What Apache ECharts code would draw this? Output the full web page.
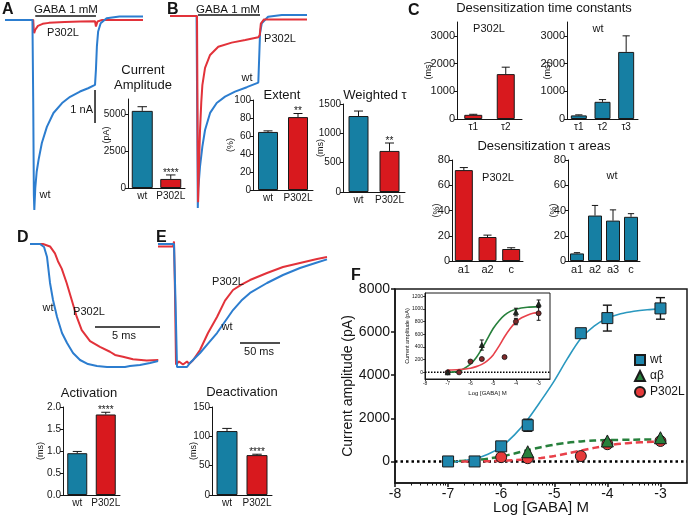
<!DOCTYPE html>
<html><head><meta charset="utf-8">
<script src="https://cdn.jsdelivr.net/npm/echarts@6/dist/echarts.min.js"></script>
<style>html,body{margin:0;padding:0;background:#fff}#c{width:688px;height:517px}</style>
</head><body><div id="c"></div>
<script>
// ---------------- DATA ----------------
// Panel A traces (t in s, current in nA)
const traceAwt = [[-1.8,0],[-0.05,0],[0.0,-2.5],[0.04,-5.3],[0.07,-5.76],[0.13,-5.1],[0.22,-4.6],[0.34,-4.24],[0.55,-3.73],[0.87,-3.24],[1.29,-2.82],[1.84,-2.52],[2.35,-2.33],[2.98,-2.17],[3.5,-2.07],[3.94,-1.97],[4.0,-1.5],[4.06,-0.8],[4.14,-0.35],[4.3,-0.1],[4.68,0.05],[5.5,0.1],[7,0.1]];
const traceAmut = [[-1.8,0],[0,0],[0.03,-0.25],[0.06,-0.4],[0.13,-0.3],[0.3,-0.18],[0.6,-0.12],[1.0,-0.09],[2.0,-0.06],[3.0,-0.05],[3.94,-0.04],[4.0,-0.2],[4.1,-0.05],[4.4,0.0],[7,0.0]];
const gabaA = [[0.13,0.12],[4.0,0.12]];
const scaleA = [[3.94,-2.12],[3.94,-3.12]];
// Panel B traces (normalized)
const traceBwt = [[-1.71,0],[-0.03,0],[0.02,-0.6],[0.05,-1.0],[0.08,-0.9],[0.19,-0.785],[0.34,-0.681],[0.51,-0.594],[0.83,-0.505],[1.25,-0.453],[1.78,-0.42],[2.41,-0.394],[3.16,-0.371],[3.89,-0.347],[3.96,-0.35],[4.0,-0.09],[4.11,-0.038],[4.51,-0.004],[5.38,0.005],[6.98,0.005]];
const traceBmut = [[-1.71,0],[0.0,0],[0.04,-0.6],[0.07,-0.97],[0.12,-0.8],[0.19,-0.6],[0.27,-0.45],[0.34,-0.36],[0.51,-0.27],[0.83,-0.203],[1.35,-0.16],[2.2,-0.139],[3.06,-0.125],[3.89,-0.111],[3.98,-0.1],[4.05,-0.04],[4.25,-0.018],[6.98,-0.018]];
const gabaB = [[0.06,0.005],[4.0,0.005]];
// Panel D traces (t in ms, normalized)
const traceDwt = [[0,0],[0.77,0],[1.08,-0.024],[1.31,-0.106],[1.54,-0.317],[1.77,-0.455],[2.08,-0.593],[2.46,-0.724],[2.85,-0.805],[3.31,-0.886],[3.85,-0.943],[4.46,-0.976],[5.15,-0.992],[5.92,-1.0],[6.69,-1.0],[7.31,-1.0],[7.69,-0.992],[8.46,-0.984],[9.23,-0.967],[9.85,-0.951]];
const traceDmut = [[0,0],[1.0,0],[1.54,-0.02],[1.92,-0.076],[2.15,-0.14],[2.44,-0.2],[2.82,-0.317],[3.21,-0.455],[3.59,-0.591],[3.98,-0.7],[4.62,-0.79],[5.38,-0.837],[6.15,-0.876],[6.54,-0.902],[6.67,-0.886],[7.15,-0.916],[7.92,-0.937],[8.97,-0.948],[9.87,-0.943]];
const scaleD = [[5,-0.675],[10,-0.675]];
// Panel E traces (t in ms, normalized)
const traceEwt = [[-21.25,0],[-1.25,0],[0.6,-0.455],[2.5,-1.0],[15,-1.0],[18.75,-0.967],[31.25,-0.886],[41.25,-0.81],[52.5,-0.724],[62.5,-0.63],[72.5,-0.537],[83,-0.46],[93.75,-0.398],[115,-0.317],[135,-0.252],[156.25,-0.195],[177.5,-0.15],[190,-0.125]];
const traceEmut = [[-21.25,-0.02],[-2.5,-0.02],[-1.25,0.02],[0,-0.4],[1.25,-0.98],[5,-0.955],[10,-0.98],[15,-0.955],[17.5,-0.975],[22.5,-0.945],[31.25,-0.862],[41.25,-0.724],[52.5,-0.593],[62.5,-0.46],[72.5,-0.374],[83,-0.33],[93.75,-0.293],[115,-0.236],[135,-0.187],[156.25,-0.154],[177.5,-0.122],[190,-0.106]];
const scaleE = [[81.25,-0.805],[131.25,-0.805]];

// Bar charts
const grpCats = ['wt','P302L'];
const ampVals = [5200,610], ampErrs = [280,270], ampStars = ['','****'];
const extVals = [64.5,81], extErrs = [1.2,4], extStars = ['','**'];
const wtauVals = [1295,700], wtauErrs = [85,135], wtauStars = ['','**'];
const tcP302Cats = ['τ1','τ2'], tcP302Vals = [150,1620], tcP302Errs = [20,250];
const tcWtCats = ['τ1','τ2','τ3'], tcWtVals = [130,620,2420], tcWtErrs = [20,80,580];
const arP302Cats = ['a1','a2','c'], arP302Vals = [72,19,9.5], arP302Errs = [2,1.5,1];
const arWtCats = ['a1','a2','a3','c'], arWtVals = [6,36,32,35], arWtErrs = [0.6,8,8.5,2.5];
const actVals = [0.95,1.83], actErrs = [0.04,0.05], actStars = ['','****'];
const deactVals = [109,68], deactErrs = [4.5,1.5], deactStars = ['','****'];

// Panel F dose-response (log M, pA)
const fXTicks = [-8,-7,-6,-5,-4,-3];
const fYTicks = [0,2000,4000,6000,8000];
const wtPts = [[-7,0],[-6.5,0],[-6,700],[-5.5,1680],[-4.5,5950],[-4,6650],[-3,7100]];
const wtErr = [50,50,120,280,150,600,500];
const abPts = [[-5.5,450],[-4,950],[-3,1100]];
const abErr = [0,0,0];
const mutPts = [[-6,200],[-5.5,150],[-4.5,250],[-4,800],[-3,950]];
const mutErr = [0,0,0,0,0];
const wtFit = [[-7,-50],[-6.75,20],[-6.5,120],[-6.25,330],[-6,680],[-5.75,1230],[-5.5,1950],[-5.25,2820],[-5,3740],[-4.75,4780],[-4.5,5700],[-4.25,6280],[-4,6640],[-3.75,6850],[-3.5,6970],[-3.25,7040],[-3,7080]];
const abFit = [[-7,0],[-6.75,20],[-6.5,60],[-6.25,130],[-6,230],[-5.75,370],[-5.5,520],[-5.25,660],[-5,780],[-4.75,870],[-4.5,930],[-4.25,970],[-4,990],[-3.5,1010],[-3,1020]];
const mutFit = [[-6.75,0],[-6.5,5],[-6.25,12],[-6,30],[-5.75,60],[-5.5,100],[-5.25,160],[-5,250],[-4.75,370],[-4.5,500],[-4.25,630],[-4,740],[-3.75,820],[-3.5,870],[-3.25,900],[-3,920]];
const zeroLine = [[-8,0],[-2.5,0]];
// Inset
const inYTicks = [0,200,400,600,800,1000,1200];
const abInPts = [[-7,0],[-5.5,430],[-4,950],[-3,1080]];
const abInErr = [0,80,60,60];
const mutInPts = [[-7,0],[-6.5,0],[-6,170],[-5.5,210],[-4.5,240],[-4,800],[-3,930]];
const mutInErr = [0,0,0,0,0,50,110];
const abInFit = [[-7,0],[-6.5,20],[-6,130],[-5.75,230],[-5.5,370],[-5.25,530],[-5,690],[-4.75,810],[-4.5,900],[-4.25,960],[-4,995],[-3.5,1025],[-3,1035]];
const mutInFit = [[-7,35],[-6.5,45],[-6,65],[-5.75,90],[-5.5,125],[-5.25,185],[-5,275],[-4.75,410],[-4.5,560],[-4.25,690],[-4,795],[-3.75,860],[-3.5,900],[-3.25,930],[-3,945]];

// ---------------- BUILD ----------------
const FONT = '"Liberation Sans", Arial, Helvetica, sans-serif';
const INK = '#151515', TEAL = '#167fa3', RED = '#d8191e', TBLUE = '#2c7dcf', TRED = '#e2323a';
const F_TEAL = '#2a98bf', F_SQ = '#1e86ad', F_GREEN = '#27803c', F_RED = '#e8414a';
const plain = v => String(v);

const grids = [], xAxes = [], yAxes = [], series = [], graphics = [];
function addGrid(box, xa, ya, extra) {
  const gi = grids.length;
  grids.push(Object.assign({left: box[0], top: box[1], width: box[2], height: box[3], containLabel: false, outerBoundsMode: 'none'}, extra || {}));
  xa.gridIndex = gi; ya.gridIndex = gi;
  xAxes.push(xa); yAxes.push(ya);
  return {x: xAxes.length - 1, y: yAxes.length - 1, g: gi};
}
function line(a, data, color, width, extra) {
  series.push(Object.assign({type: 'line', xAxisIndex: a.x, yAxisIndex: a.y, data: data, symbol: 'none', showSymbol: false,
    lineStyle: {color: color, width: width}, itemStyle: {color: color}, silent: true, z: 2}, extra || {}));
}
function errBars(a, pts, errs, capW, lw, color, twoSided, z) {
  series.push({type: 'custom', xAxisIndex: a.x, yAxisIndex: a.y, silent: true, z: z || 3, clip: false,
    data: pts.map((p, i) => [p[0], p[1], errs[i]]),
    renderItem: function (params, api) {
      const x = api.value(0), v = api.value(1), e = api.value(2);
      if (!e) return {type: 'group', children: []};
      const t = api.coord([x, v + e]);
      const b = api.coord([x, twoSided ? v - e : v]);
      const st = {stroke: color, lineWidth: lw};
      const ch = [
        {type: 'line', shape: {x1: t[0], y1: t[1], x2: b[0], y2: b[1]}, style: st},
        {type: 'line', shape: {x1: t[0] - capW / 2, y1: t[1], x2: t[0] + capW / 2, y2: t[1]}, style: st}
      ];
      if (twoSided) ch.push({type: 'line', shape: {x1: b[0] - capW / 2, y1: b[1], x2: b[0] + capW / 2, y2: b[1]}, style: st});
      return {type: 'group', children: ch};
    }});
}
function barPanel(o) {
  const ya = {type: 'value', min: o.min, max: o.max, splitLine: {show: false},
    axisLine: {show: true, onZero: false, lineStyle: {color: INK, width: 1}},
    axisTick: {show: true, length: 3, lineStyle: {color: INK, width: 1}},
    axisLabel: {fontSize: o.fs, color: INK, margin: 2, fontFamily: FONT, formatter: o.fmt || plain},
    name: o.name, nameLocation: 'middle', nameGap: o.nameGap, nameMoveOverlap: false,
    nameTextStyle: {fontSize: 9, color: INK, fontFamily: FONT}};
  if (o.interval) ya.interval = o.interval;
  if (o.ticks) { ya.axisLabel.customValues = o.ticks; ya.axisTick.customValues = o.ticks; }
  const xa = {type: 'category', data: o.cats, splitLine: {show: false},
    axisLine: {show: true, onZero: false, lineStyle: {color: INK, width: 1}}, axisTick: {show: false},
    axisLabel: {fontSize: o.xfs || 10, color: INK, margin: 3, interval: 0, fontFamily: FONT}};
  const a = addGrid(o.box, xa, ya);
  series.push({type: 'bar', xAxisIndex: a.x, yAxisIndex: a.y, barWidth: o.barW, silent: true, z: 2,
    data: o.vals.map((v, i) => ({value: v, itemStyle: {color: o.colors[i]}})),
    itemStyle: {borderColor: '#1a1a1a', borderWidth: 1}});
  const stars = o.stars;
  series.push({type: 'custom', xAxisIndex: a.x, yAxisIndex: a.y, silent: true, z: 3, clip: false,
    data: o.vals.map((v, i) => [i, v, o.errs[i]]),
    renderItem: function (params, api) {
      const i = api.value(0), v = api.value(1), e = api.value(2);
      const b = api.coord([i, v]), t = api.coord([i, v + e]);
      const cw = o.barW * 0.45;
      const st = {stroke: INK, lineWidth: 1};
      const ch = [
        {type: 'line', shape: {x1: b[0], y1: b[1], x2: t[0], y2: t[1]}, style: st},
        {type: 'line', shape: {x1: t[0] - cw / 2, y1: t[1], x2: t[0] + cw / 2, y2: t[1]}, style: st}
      ];
      const s = stars && stars[params.dataIndex];
      if (s) ch.push({type: 'text', x: t[0], y: t[1] + 3, style: {text: s, align: 'center', verticalAlign: 'bottom', fontSize: 10, fontFamily: FONT, fill: INK}});
      return {type: 'group', children: ch};
    }});
  return a;
}
function tracePanel(box, xr, yr) {
  return addGrid(box, {type: 'value', min: xr[0], max: xr[1], show: false}, {type: 'value', min: yr[0], max: yr[1], show: false});
}

// ---- Traces ----
const tA = tracePanel([5, 10, 138, 202], [-1.8, 7], [-5.82, 0.3]);
line(tA, traceAmut, TRED, 2);
line(tA, traceAwt, TBLUE, 2);
line(tA, gabaA, INK, 1.5);
line(tA, scaleA, INK, 1.5);

const tB = tracePanel([170, 10, 137, 202], [-1.714, 6.98], [-1.021, 0.031]);
line(tB, traceBwt, TBLUE, 2);
line(tB, traceBmut, TRED, 2);
line(tB, gabaB, INK, 1.5);

const tD = tracePanel([30, 240, 130, 130], [0, 10], [-1.0244, 0.0325]);
line(tD, traceDmut, TRED, 2);
line(tD, traceDwt, TBLUE, 2);
line(tD, scaleD, INK, 1.5);

const tE = tracePanel([158, 240, 170, 130], [-21.25, 191.25], [-1.0244, 0.0325]);
line(tE, traceEmut, TRED, 2);
line(tE, traceEwt, TBLUE, 2);
line(tE, scaleE, INK, 1.5);

// ---- Bars ----
barPanel({box: [128, 99, 57, 89], cats: grpCats, vals: ampVals, errs: ampErrs, colors: [TEAL, RED], min: 0, max: 6000, ticks: [0, 2500, 5000], fs: 10, name: '', nameGap: 17, stars: ampStars, barW: 21});
barPanel({box: [253, 100, 60, 90], cats: grpCats, vals: extVals, errs: extErrs, colors: [TEAL, RED], min: 0, max: 100, interval: 20, fs: 10, name: '(%)', nameGap: 18, stars: extStars, barW: 20});
barPanel({box: [343, 104, 62, 88], cats: grpCats, vals: wtauVals, errs: wtauErrs, colors: [TEAL, RED], min: 0, max: 1500, interval: 500, fs: 10, name: '(ms)', nameGap: 18, stars: wtauStars, barW: 20});
barPanel({box: [457, 22, 65, 97], cats: tcP302Cats, vals: tcP302Vals, errs: tcP302Errs, colors: [RED, RED], min: 0, max: 3500, ticks: [0, 1000, 2000, 3000], fs: 11, name: '(ms)', nameGap: 24, barW: 18});
barPanel({box: [567, 22, 71, 97], cats: tcWtCats, vals: tcWtVals, errs: tcWtErrs, colors: [TEAL, TEAL, TEAL], min: 0, max: 3500, ticks: [0, 1000, 2000, 3000], fs: 11, name: '(ms)', nameGap: 15, barW: 16});
barPanel({box: [452, 160, 71, 101], cats: arP302Cats, vals: arP302Vals, errs: arP302Errs, colors: [RED, RED, RED], min: 0, max: 80, interval: 20, fs: 11, name: '(%)', nameGap: 11, barW: 18, xfs: 11});
barPanel({box: [568, 160, 72, 101], cats: arWtCats, vals: arWtVals, errs: arWtErrs, colors: [TEAL, TEAL, TEAL, TEAL], min: 0, max: 80, interval: 20, fs: 11, name: '(%)', nameGap: 10, barW: 14, xfs: 11});
barPanel({box: [63, 407, 57, 88], cats: grpCats, vals: actVals, errs: actErrs, colors: [TEAL, RED], min: 0, max: 2, interval: 0.5, fmt: v => v.toFixed(1), fs: 10, name: '(ms)', nameGap: 18, stars: actStars, barW: 20});
barPanel({box: [212, 407, 60, 88], cats: grpCats, vals: deactVals, errs: deactErrs, colors: [TEAL, RED], min: 0, max: 150, interval: 50, fs: 10, name: '(ms)', nameGap: 14, stars: deactStars, barW: 21});

// ---- Panel F main ----
const fMinor = [];
for (let d = -8; d < -3; d++) for (let k = 2; k <= 9; k++) fMinor.push(d + Math.log10(k));
const fm = addGrid([395, 289, 292, 194],
  {type: 'value', min: -8, max: -2.5, splitLine: {show: false},
    axisLine: {onZero: false, lineStyle: {color: INK, width: 1.5}},
    axisTick: {length: 4, customValues: fXTicks, lineStyle: {color: INK, width: 1.5}},
    axisLabel: {customValues: fXTicks, fontSize: 14, color: INK, margin: 4, fontFamily: FONT, formatter: plain},
    name: 'Log [GABA] M', nameLocation: 'middle', nameGap: 17, nameMoveOverlap: false,
    nameTextStyle: {fontSize: 15, color: INK, fontFamily: FONT}},
  {type: 'value', min: -1000, max: 8000, splitLine: {show: false},
    axisLine: {onZero: false, lineStyle: {color: INK, width: 1.5}},
    axisTick: {length: 4, customValues: fYTicks, lineStyle: {color: INK, width: 1.5}},
    axisLabel: {customValues: fYTicks, fontSize: 14, color: INK, margin: 5, fontFamily: FONT, formatter: plain},
    name: 'Current amplitude (pA)', nameLocation: 'middle', nameGap: 40, nameMoveOverlap: false,
    nameTextStyle: {fontSize: 14, color: INK, fontFamily: FONT}},
  {show: true, borderColor: '#1a1a1a', borderWidth: 1.5, backgroundColor: 'transparent'});
// minor log ticks
xAxes.push({gridIndex: fm.g, type: 'value', min: -8, max: -2.5, position: 'bottom', splitLine: {show: false},
  axisLine: {show: false, onZero: false}, axisLabel: {show: false},
  axisTick: {show: true, length: 2.5, customValues: fMinor, lineStyle: {color: INK, width: 1}}});

line(fm, zeroLine, '#000', 2.5, {lineStyle: {color: '#000', width: 2.5, type: [2.5, 3]}, z: 2});
line(fm, wtFit, F_TEAL, 1.6, {smooth: 0.3, z: 3});
line(fm, abFit, F_GREEN, 2.5, {smooth: 0.3, lineStyle: {color: F_GREEN, width: 2.5, type: [7, 4]}, z: 3});
line(fm, mutFit, F_RED, 2.5, {smooth: 0.3, lineStyle: {color: F_RED, width: 2.5, type: [7, 4]}, z: 3});
errBars(fm, wtPts, wtErr, 9, 1.4, INK, true, 4);
errBars(fm, abPts, abErr, 9, 1.4, INK, true, 4);
errBars(fm, mutPts, mutErr, 9, 1.4, INK, true, 4);
series.push({type: 'scatter', name: 'P302L', xAxisIndex: fm.x, yAxisIndex: fm.y, data: mutPts, symbol: 'circle', symbolSize: 11, z: 5, silent: true,
  itemStyle: {color: '#e63a3a', borderColor: '#1a1a1a', borderWidth: 1, opacity: 1}});
series.push({type: 'scatter', name: 'αβ', xAxisIndex: fm.x, yAxisIndex: fm.y, data: abPts, symbol: 'triangle', symbolSize: 12, z: 5, silent: true,
  itemStyle: {color: F_GREEN, borderColor: '#1a1a1a', borderWidth: 1, opacity: 1}});
series.push({type: 'scatter', name: 'wt', xAxisIndex: fm.x, yAxisIndex: fm.y, data: wtPts, symbol: 'rect', symbolSize: 11, z: 5, silent: true,
  itemStyle: {color: F_SQ, borderColor: '#1a1a1a', borderWidth: 1, opacity: 1}});

// ---- Inset ----
const fi = addGrid([425, 293, 125, 86],
  {type: 'value', min: -8, max: -2.5, splitLine: {show: false},
    axisLine: {onZero: false, lineStyle: {color: INK, width: 1}},
    axisTick: {length: 2, customValues: fXTicks, lineStyle: {color: INK, width: 0.8}},
    axisLabel: {customValues: fXTicks, fontSize: 5, color: INK, margin: 2, fontFamily: FONT, formatter: plain},
    name: 'Log [GABA] M', nameLocation: 'middle', nameGap: 11, nameMoveOverlap: false,
    nameTextStyle: {fontSize: 6, color: INK, fontFamily: FONT}},
  {type: 'value', min: -105, max: 1250, splitLine: {show: false},
    axisLine: {onZero: false, lineStyle: {color: INK, width: 1}},
    axisTick: {length: 2, customValues: inYTicks, lineStyle: {color: INK, width: 0.8}},
    axisLabel: {customValues: inYTicks, fontSize: 5, color: INK, margin: 2, fontFamily: FONT, formatter: plain},
    name: 'Current amplitude (pA)', nameLocation: 'middle', nameGap: 15, nameMoveOverlap: false,
    nameTextStyle: {fontSize: 5.5, color: INK, fontFamily: FONT}},
  {show: true, borderColor: '#1a1a1a', borderWidth: 1, backgroundColor: '#ffffff'});
line(fi, zeroLine, '#000', 1.5, {lineStyle: {color: '#000', width: 1.5, type: [1.5, 1.5]}, z: 6});
line(fi, abInFit, F_GREEN, 1.6, {smooth: 0.3, z: 6});
line(fi, mutInFit, F_RED, 1.6, {smooth: 0.3, z: 6});
errBars(fi, abInPts, abInErr, 4, 1, INK, true, 7);
errBars(fi, mutInPts, mutInErr, 4, 1, INK, true, 7);
series.push({type: 'scatter', name: 'inset P302L', xAxisIndex: fi.x, yAxisIndex: fi.y, data: mutInPts, symbol: 'circle', symbolSize: 5, z: 8, silent: true,
  itemStyle: {color: '#7e2a2a', borderColor: '#111', borderWidth: 0.8, opacity: 1}});
series.push({type: 'scatter', name: 'inset ab', xAxisIndex: fi.x, yAxisIndex: fi.y, data: abInPts, symbol: 'triangle', symbolSize: 5, z: 8, silent: true,
  itemStyle: {color: '#1f2a22', borderColor: '#111', borderWidth: 0.8, opacity: 1}});

// ---- Text ----
function T(x, y, s, size, o) {
  o = o || {};
  return {type: 'text', x: x, y: y, rotation: o.rot || 0, silent: true, z: 20,
    style: {text: s, fontSize: size, fontFamily: FONT, fontWeight: o.bold ? 'bold' : 'normal', fill: INK,
      align: o.align || 'center', verticalAlign: o.va || 'middle'}};
}
const LB = {bold: 1, align: 'left', va: 'top'};
graphics.push(
  T(2, 2, 'A', 16, LB), T(167, 2, 'B', 16, LB), T(408, 3, 'C', 16, LB),
  T(17, 230, 'D', 16, LB), T(156, 230, 'E', 16, LB), T(351, 268, 'F', 16, LB),
  T(66, 10, 'GABA 1 mM', 11.5), T(63, 33, 'P302L', 11), T(45, 195, 'wt', 11), T(93, 110, '1 nA', 11, {align: 'right'}),
  T(143, 70, 'Current', 13), T(143, 85, 'Amplitude', 13), T(107, 135, '(pA)', 9, {rot: Math.PI / 2}),
  T(228, 10, 'GABA 1 mM', 11.5), T(280, 39, 'P302L', 11), T(247, 78, 'wt', 11),
  T(282, 95, 'Extent', 13), T(375, 95, 'Weighted τ', 13),
  T(544, 8, 'Desensitization time constants', 13), T(544, 146, 'Desensitization τ areas', 13),
  T(489, 29, 'P302L', 11), T(598, 29, 'wt', 11), T(498, 178, 'P302L', 11), T(612, 176, 'wt', 11),
  T(48, 308, 'wt', 11), T(89, 312, 'P302L', 11), T(124, 336, '5 ms', 11),
  T(228, 282, 'P302L', 11), T(227, 327, 'wt', 11), T(259, 352, '50 ms', 11),
  T(89, 393, 'Activation', 13), T(242, 392, 'Deactivation', 13)
);

const chart = echarts.init(document.getElementById('c'), null, {renderer: 'canvas'});
chart.setOption({
  animation: false,
  backgroundColor: '#ffffff',
  textStyle: {fontFamily: FONT},
  grid: grids, xAxis: xAxes, yAxis: yAxes, series: series,
  graphic: {elements: graphics},
  legend: {orient: 'vertical', left: 629, top: 349, itemWidth: 10, itemHeight: 10, itemGap: 4, selectedMode: false,
    textStyle: {fontSize: 12, color: INK, fontFamily: FONT}, data: ['wt', 'αβ', 'P302L']}
});
</script></body></html>
